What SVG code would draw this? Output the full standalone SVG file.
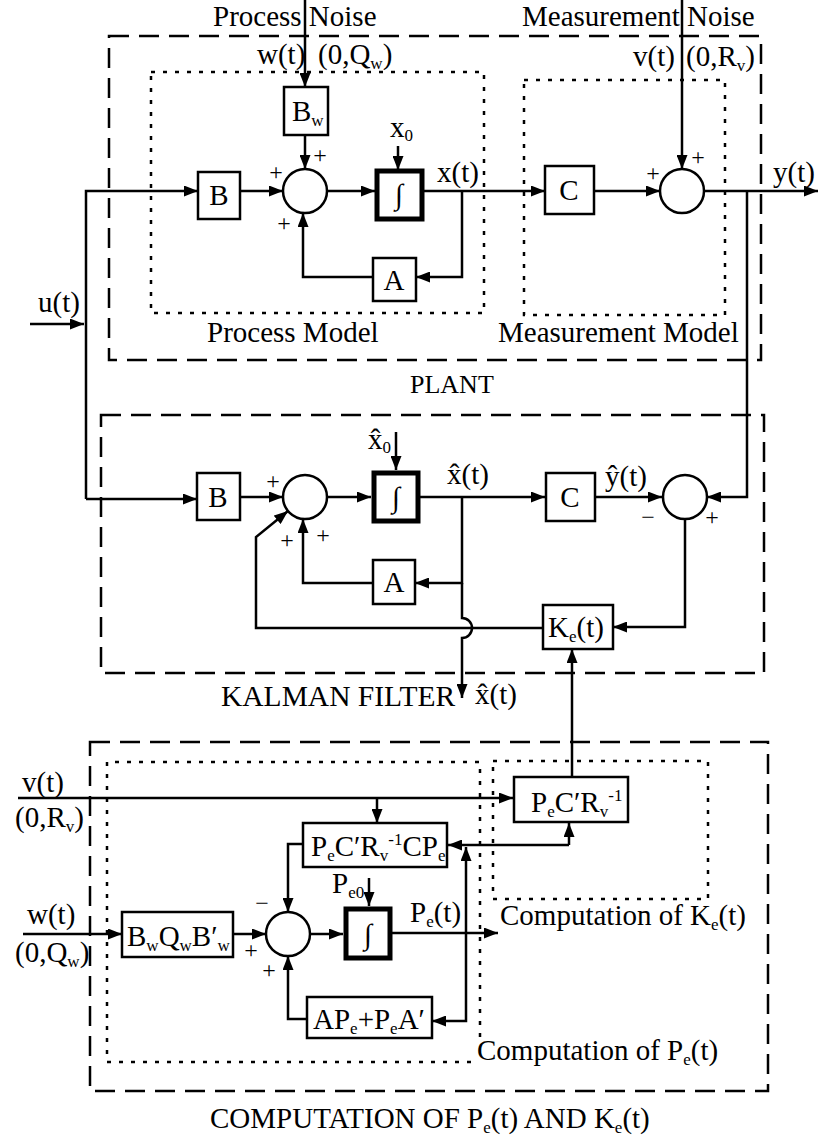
<svg xmlns="http://www.w3.org/2000/svg" width="830" height="1138" viewBox="0 0 830 1138">
<style>
.ln{fill:none;stroke:#000;stroke-width:2.5}
.ar{marker-end:url(#ah)}
.bx{fill:#fff;stroke:#000;stroke-width:2.5}
.ig{fill:#fff;stroke:#000;stroke-width:5}
.da{fill:none;stroke:#000;stroke-width:2.5;stroke-dasharray:20 10}
.do{fill:none;stroke:#000;stroke-width:2.5;stroke-dasharray:4 8}
text{font-family:"Liberation Serif","Times New Roman",serif;font-size:29px;fill:#000}
.s{font-size:17px}
.pm{font-size:24px;text-anchor:middle}
.lb{font-size:26px}
.mid{text-anchor:middle}
</style>
<defs>
<marker id="ah" viewBox="0 0 14 11" refX="14" refY="5.5" markerWidth="14" markerHeight="11" orient="auto" markerUnits="userSpaceOnUse"><path d="M0,0 L14,5.5 L0,11 z" fill="#000"/></marker>
</defs>
<rect width="830" height="1138" fill="#fff"/>

<g id="regions">
<rect class="da" x="109" y="36" width="652" height="324"/>
<rect class="do" x="151" y="72" width="333" height="241"/>
<rect class="do" x="524" y="80" width="201" height="235"/>
<rect class="da" x="101" y="415" width="663" height="258"/>
<rect class="da" x="90" y="742" width="678" height="349"/>
<path class="do" d="M480,1037 V762 H107 V1062 H472"/>
<rect class="do" x="493" y="761" width="215" height="138"/>
</g>

<g id="connectors">
<path class="ln ar" d="M305,0 V87"/>
<path class="ln ar" d="M305,135 V169"/>
<path class="ln ar" d="M682,0 V169"/>
<path class="ln ar" d="M398,146 V170"/>
<path class="ln ar" d="M86,499 V191 H198"/>
<path class="ln ar" d="M86,499 H197"/>
<path class="ln ar" d="M30,324 H84"/>
<path class="ln ar" d="M240,191 H283"/>
<path class="ln ar" d="M327,191 H375"/>
<path class="ln ar" d="M423,191 H545"/>
<path class="ln ar" d="M462,191 V277 H416"/>
<path class="ln ar" d="M373,277 H303 V213"/>
<path class="ln ar" d="M594,191 H660"/>
<path class="ln ar" d="M704,191 H818"/>
<path class="ln ar" d="M747,191 V497 H707"/>

<path class="ln ar" d="M240,497 H283"/>
<path class="ln ar" d="M327,497 H371"/>
<path class="ln ar" d="M396,432 V470"/>
<path class="ln ar" d="M420,497 H545"/>
<path class="ln ar" d="M462,497 V583 H415"/>
<path class="ln ar" d="M373,583 H303 V519"/>
<path class="ln ar" d="M462,583 V618 A10,10 0 0 1 462,638 V698"/>
<path class="ln ar" d="M595,497 H662"/>
<path class="ln ar" d="M685,520 V627 H613"/>
<path class="ln ar" d="M543,628 H256 V537 L288,511"/>
<path class="ln ar" d="M572,777 V649"/>

<path class="ln ar" d="M18,798 H513"/>
<path class="ln ar" d="M377,798 V823"/>
<path class="ln ar" d="M569,845 V823"/>
<path class="ln ar" d="M569,845 H448"/>
<path class="ln ar" d="M466,933 V847"/>
<path class="ln ar" d="M466,933 V1021 H432"/>
<path class="ln ar" d="M390,933 H498"/>
<path class="ln ar" d="M303,844 H288 V912"/>
<path class="ln ar" d="M23,934 H122"/>
<path class="ln ar" d="M233,934 H266"/>
<path class="ln ar" d="M310,934 H343"/>
<path class="ln ar" d="M369,878 V906"/>
<path class="ln ar" d="M307,1019 H288 V956"/>
</g>

<g id="plant-Bw"><rect class="bx" x="284" y="87" width="44" height="48"/><text x="292" y="121">B<tspan class="s" dy="5">w</tspan></text></g>
<g id="plant-B"><rect class="bx" x="198" y="172" width="42" height="47"/><text class="mid" x="219" y="205">B</text></g>
<g id="plant-sum"><circle class="bx" cx="305" cy="191" r="22"/></g>
<g id="plant-int"><rect class="ig" x="377" y="171" width="45" height="48"/><text class="mid" x="399" y="204">∫</text></g>
<g id="plant-A"><rect class="bx" x="373" y="258" width="43" height="43"/><text class="mid" x="394" y="290">A</text></g>
<g id="plant-C"><rect class="bx" x="545" y="166" width="49" height="48"/><text class="mid" x="569" y="200">C</text></g>
<g id="plant-msum"><circle class="bx" cx="682" cy="191" r="22"/></g>

<g id="kf-B"><rect class="bx" x="197" y="473" width="43" height="47"/><text class="mid" x="218" y="507">B</text></g>
<g id="kf-sum"><circle class="bx" cx="305" cy="497" r="22"/></g>
<g id="kf-int"><rect class="ig" x="374" y="473" width="44" height="48"/><text class="mid" x="396" y="507">∫</text></g>
<g id="kf-C"><rect class="bx" x="546" y="473" width="49" height="48"/><text class="mid" x="570" y="507">C</text></g>
<g id="kf-A"><rect class="bx" x="373" y="560" width="42" height="44"/><text class="mid" x="394" y="592">A</text></g>
<g id="kf-sum2"><circle class="bx" cx="685" cy="497" r="22"/></g>
<g id="kf-Ke"><rect class="bx" x="543" y="605" width="70" height="44"/><text x="548" y="637">K<tspan class="s" dy="5">e</tspan><tspan dy="-5">(t)</tspan></text></g>

<g id="cp-K"><rect class="bx" x="514" y="777" width="114" height="45"/><text x="531" y="812">P<tspan class="s" dy="5">e</tspan><tspan dy="-5">C′R</tspan><tspan class="s" dy="5">v</tspan><tspan class="s" dy="-16">-1</tspan></text></g>
<g id="cp-CP"><rect class="bx" x="303" y="823" width="144" height="44"/><text x="311" y="856">P<tspan class="s" dy="5">e</tspan><tspan dy="-5">C′R</tspan><tspan class="s" dy="5">v</tspan><tspan class="s" dy="-16">-1</tspan><tspan dy="11">CP</tspan><tspan class="s" dy="5">e</tspan></text></g>
<g id="cp-BQB"><rect class="bx" x="122" y="912" width="111" height="45"/><text x="127" y="946">B<tspan class="s" dy="5">w</tspan><tspan dy="-5">Q</tspan><tspan class="s" dy="5">w</tspan><tspan dy="-5">B′</tspan><tspan class="s" dy="5">w</tspan></text></g>
<g id="cp-sum"><circle class="bx" cx="288" cy="934" r="22"/></g>
<g id="cp-int"><rect class="ig" x="346" y="909" width="44" height="49"/><text class="mid" x="368" y="944">∫</text></g>
<g id="cp-AP"><rect class="bx" x="307" y="997" width="125" height="41"/><text x="313" y="1029">AP<tspan class="s" dy="5">e</tspan><tspan dy="-5">+P</tspan><tspan class="s" dy="5">e</tspan><tspan dy="-5">A′</tspan></text></g>

<g id="labels">
<text x="213" y="26">Process Noise</text>
<text x="522" y="26">Measurement Noise</text>
<text x="257" y="64">w(t)</text>
<text x="318" y="64">(0,Q<tspan class="s" dy="5">w</tspan><tspan dy="-5">)</tspan></text>
<text x="633" y="66">v(t)</text>
<text x="686" y="66">(0,R<tspan class="s" dy="5">v</tspan><tspan dy="-5">)</tspan></text>
<text x="390" y="137">x<tspan class="s" dy="4">0</tspan></text>
<text x="437" y="182">x(t)</text>
<text x="773" y="182">y(t)</text>
<text x="38" y="312">u(t)</text>
<text x="207" y="342">Process Model</text>
<text x="498" y="342">Measurement Model</text>
<text class="lb" x="410" y="393">PLANT</text>
<text class="pm" x="320" y="163">+</text>
<text class="pm" x="276" y="180">+</text>
<text class="pm" x="284" y="231">+</text>
<text class="pm" x="653" y="181">+</text>
<text class="pm" x="698" y="165">+</text>

<text x="368" y="449">x&#x302;<tspan class="s" dy="4">0</tspan></text>
<text x="447" y="484">x&#x302;(t)</text>
<text x="605" y="486">y&#x302;(t)</text>
<text class="pm" x="273" y="489">+</text>
<text class="pm" x="287" y="548">+</text>
<text class="pm" x="323" y="543">+</text>
<text class="pm" x="648" y="525">−</text>
<text class="pm" x="712" y="525">+</text>
<text x="221" y="706" style="font-size:29.5px">KALMAN FILTER</text>
<text x="475" y="704">x&#x302;(t)</text>

<text x="22" y="792">v(t)</text>
<text x="15" y="827">(0,R<tspan class="s" dy="5">v</tspan><tspan dy="-5">)</tspan></text>
<text x="27" y="924">w(t)</text>
<text x="15" y="962">(0,Q<tspan class="s" dy="5">w</tspan><tspan dy="-5">)</tspan></text>
<text x="332" y="893">P<tspan class="s" dy="5">e0</tspan></text>
<text x="410" y="922">P<tspan class="s" dy="5">e</tspan><tspan dy="-5">(t)</tspan></text>
<text class="pm" x="262" y="911">−</text>
<text class="pm" x="251" y="958">+</text>
<text class="pm" x="269" y="978">+</text>
<text x="500" y="925">Computation of K<tspan class="s" dy="5">e</tspan><tspan dy="-5">(t)</tspan></text>
<text x="477" y="1060">Computation of P<tspan class="s" dy="5">e</tspan><tspan dy="-5">(t)</tspan></text>
<text x="210" y="1128">COMPUTATION OF P<tspan class="s" dy="5">e</tspan><tspan dy="-5">(t) AND K</tspan><tspan class="s" dy="5">e</tspan><tspan dy="-5">(t)</tspan></text>
</g>
</svg>
